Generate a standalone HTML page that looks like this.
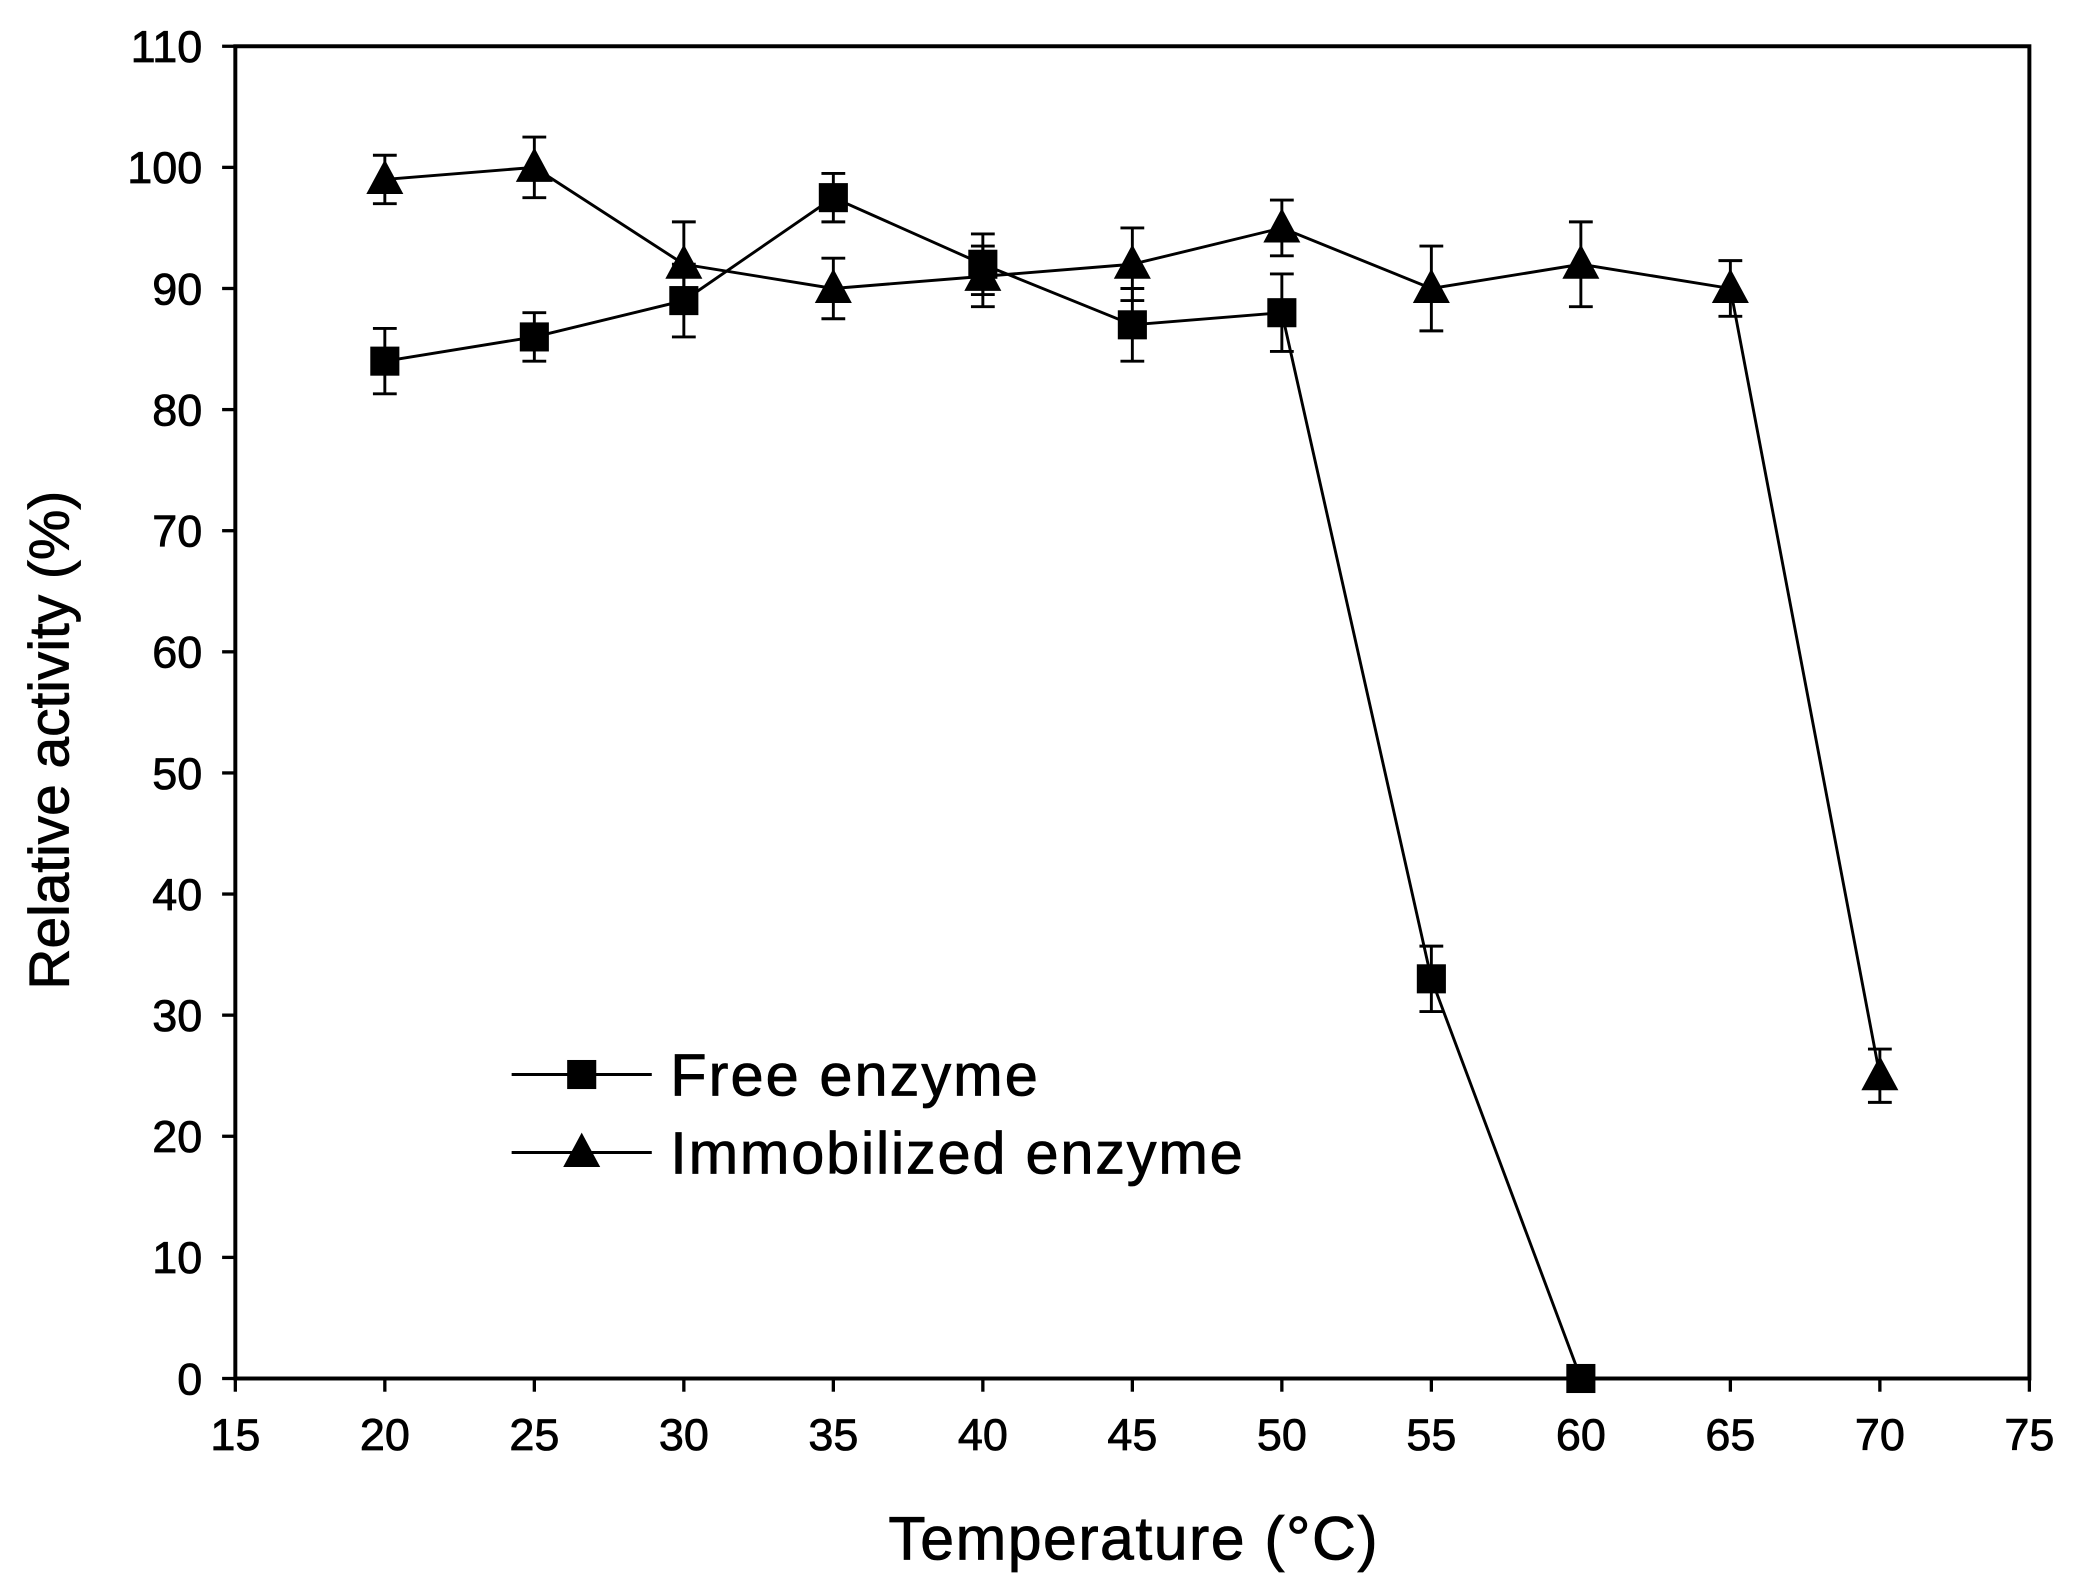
<!DOCTYPE html>
<html><head><meta charset="utf-8"><style>html,body{margin:0;padding:0;background:#fff}svg{display:block}</style></head>
<body>
<svg width="2073" height="1586" viewBox="0 0 1568 1200" preserveAspectRatio="none" xmlns="http://www.w3.org/2000/svg" font-family="Liberation Sans, Arial, sans-serif">
<rect width="1568" height="1200" fill="#fff"/>
<g id="plot"></g>
<rect x="178" y="35" width="1357" height="1008" fill="none" stroke="#000" stroke-width="3"/>
<script>
(function(){
var NS="http://www.w3.org/2000/svg",g=document.getElementById("plot");
function X(v){return 178+(v-15)*1357/60}
function Y(v){return 1043-v*1008/110}
function el(t,a,txt){var e=document.createElementNS(NS,t);for(var k in a)e.setAttribute(k,a[k]);if(txt!=null)e.textContent=txt;g.appendChild(e);return e}
for(var v=15;v<=75;v+=5){el("line",{x1:X(v),x2:X(v),y1:1043,y2:1053,stroke:"#000","stroke-width":2.5});el("text",{x:X(v),y:1097,"font-size":34,"text-anchor":"middle","stroke":"#000","stroke-width":0.6},v)}
for(var v=0;v<=110;v+=10){el("line",{x1:168,x2:178,y1:Y(v),y2:Y(v),stroke:"#000","stroke-width":2.5});el("text",{x:153,y:Y(v)+12,"font-size":34,"text-anchor":"end","stroke":"#000","stroke-width":0.6},v)}
el("text",{x:857,y:1180,"font-size":46,"text-anchor":"middle","stroke":"#000","stroke-width":0.6,"textLength":370},"Temperature (°C)");
el("text",{x:0,y:0,"font-size":43,"text-anchor":"middle","stroke":"#000","stroke-width":0.6,transform:"translate(52,560) rotate(-90)"},"Relative activity (%)");
var free=[[20,84,2.7],[25,86,2],[30,89,3],[35,97.5,2],[40,92,2.5],[45,87,3],[50,88,3.2],[55,33,2.7],[60,0,0]];
var imm=[[20,99,2],[25,100,2.5],[30,92,3.5],[35,90,2.5],[40,91,2.5],[45,92,3],[50,95,2.3],[55,90,3.5],[60,92,3.5],[65,90,2.3],[70,25,2.2]];
function series(d,tri){
 el("polyline",{points:d.map(function(p){return X(p[0])+","+Y(p[1])}).join(" "),fill:"none",stroke:"#000","stroke-width":2.2});
 d.forEach(function(p){var x=X(p[0]);if(p[2]>0){var a=Y(p[1]+p[2]),b=Y(p[1]-p[2]);el("line",{x1:x,x2:x,y1:a,y2:b,stroke:"#000","stroke-width":2.2});el("line",{x1:x-9,x2:x+9,y1:a,y2:a,stroke:"#000","stroke-width":2.2});el("line",{x1:x-9,x2:x+9,y1:b,y2:b,stroke:"#000","stroke-width":2.2});}
 mark(x,Y(p[1]),tri)});
}
function mark(x,y,tri){if(tri)el("polygon",{points:(x)+","+(y-15)+" "+(x-14)+","+(y+11)+" "+(x+14)+","+(y+11),fill:"#000"});else el("rect",{x:x-11,y:y-11,width:22,height:22,fill:"#000"})}
series(free,false);series(imm,true);
el("line",{x1:387,x2:493,y1:813,y2:813,stroke:"#000","stroke-width":2.2});mark(440,813,false);
el("text",{x:507,y:829,"font-size":45,"stroke":"#000","stroke-width":0.6,"textLength":278},"Free enzyme");
el("line",{x1:387,x2:493,y1:872,y2:872,stroke:"#000","stroke-width":2.2});mark(440,872,true);
el("text",{x:507,y:888,"font-size":45,"stroke":"#000","stroke-width":0.6,"textLength":433},"Immobilized enzyme");
})();
</script>
</svg>
</body></html>
